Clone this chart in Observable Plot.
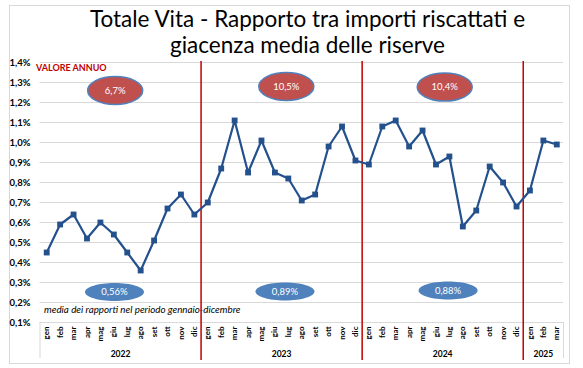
<!DOCTYPE html>
<html><head><meta charset="utf-8">
<script src="https://cdn.jsdelivr.net/npm/d3@7"></script>
<script src="https://cdn.jsdelivr.net/npm/@observablehq/plot@0.6"></script>
<style>
body{margin:0;background:#fff;}
#wrap{position:relative;width:583px;height:368px;font-family:Lato, "Open Sans", sans-serif;}
#frame{position:absolute;left:9px;top:5px;width:561px;height:359px;border:1px solid #d9d9d9;box-sizing:border-box;}
#title{position:absolute;left:16px;width:583px;top:6px;text-align:center;font-size:22.5px;line-height:26px;color:#000;}
#chart{position:absolute;left:0;top:0;}
</style></head>
<body><div id="wrap"><div id="frame"></div><div id="chart"></div>
<div id="title">Totale Vita - Rapporto tra importi riscattati e<br>giacenza media delle riserve</div></div>
<script>
// ---- data ----
const years = ["2022", "2023", "2024", "2025"];
const months = ["gen","feb","mar","apr","mag","giu","lug","ago","set","ott","nov","dic"];
const v2022 = [0.45, 0.59, 0.64, 0.52, 0.60, 0.54, 0.45, 0.36, 0.51, 0.67, 0.74, 0.64];
const v2023 = [0.70, 0.87, 1.11, 0.85, 1.01, 0.85, 0.82, 0.71, 0.74, 0.98, 1.08, 0.91];
const v2024 = [0.89, 1.08, 1.11, 0.98, 1.06, 0.89, 0.93, 0.58, 0.66, 0.88, 0.80, 0.68];
const v2025 = [0.76, 1.01, 0.99];
const annualValues = ["6,7%", "10,5%", "10,4%"];
const meanValues = ["0,56%", "0,89%", "0,88%"];
const yTicks = [0.1, 0.2, 0.3, 0.4, 0.5, 0.6, 0.7, 0.8, 0.9, 1.0, 1.1, 1.2, 1.3, 1.4];

// ---- build table ----
const series = [v2022, v2023, v2024, v2025];
const rows = [];
const yearInfo = [];
series.forEach((vals, yi) => {
  const start = rows.length;
  vals.forEach((v, mi) => rows.push({i: rows.length, month: months[mi], year: years[yi], value: v}));
  yearInfo.push({year: years[yi], center: start + (vals.length - 1) / 2, start, end: rows.length - 1});
});
const separators = yearInfo.slice(1).map(d => d.start - 0.5);

// layout offsets for the annotation bubbles (relative to year center)
const topDx = [-0.4, 0.35, 0.15], topY = [1.26, 1.28, 1.277];
const botDx = [-0.45, 0.25, 0.4], botY = [0.252, 0.255, 0.26];
const annual = annualValues.map((t, k) => ({t, x: yearInfo[k].center + topDx[k], y: topY[k]}));
const means = meanValues.map((t, k) => ({t, x: yearInfo[k].center + botDx[k], y: botY[k]}));

function ellipse(w, h) {
  const a = w / 2, b = h / 2, k = 0.5522847498;
  return {draw(ctx) {
    ctx.moveTo(a, 0);
    ctx.bezierCurveTo(a, b * k, a * k, b, 0, b);
    ctx.bezierCurveTo(-a * k, b, -a, b * k, -a, 0);
    ctx.bezierCurveTo(-a, -b * k, -a * k, -b, 0, -b);
    ctx.bezierCurveTo(a * k, -b, a, -b * k, a, 0);
    ctx.closePath();
  }};
}

const blue = "#24508C";
const fmt = d => d.toFixed(1).replace(".", ",") + "%";

const chart = Plot.plot({
  width: 583, height: 368,
  marginLeft: 39.5, marginRight: 20, marginTop: 62, marginBottom: 46,
  x: {type: "linear", domain: [-0.5, rows.length - 0.5], axis: null},
  y: {domain: [0.1, 1.4], axis: null},
  style: {fontFamily: "Lato, 'Open Sans', sans-serif", background: "transparent", color: "#000", overflow: "visible"},
  marks: [
    Plot.gridY(yTicks, {stroke: "#d9d9d9", strokeOpacity: 1, strokeWidth: 1.2}),
    Plot.axisY(yTicks, {tickFormat: fmt, tickSize: 0, tickPadding: 9.5, fontWeight: "bold", fontSize: 9.5, label: null, fill: "#000"}),
    Plot.ruleX([-0.5, rows.length - 0.5], {y1: 0.1, y2: -0.08, stroke: "#d9d9d9"}),
    Plot.text(rows, {x: "i", y: 0.08, text: "month", rotate: -90, textAnchor: "end", fontWeight: "bold", fontSize: 8, fill: "#000"}),
    Plot.text(yearInfo, {x: "center", y: -0.06, text: "year", fontWeight: "bold", fontSize: 8.5, fill: "#000"}),
    Plot.text(["VALORE ANNUO"], {x: -0.5, y: 1.37, dx: -4, textAnchor: "start", fill: "#C00000", fontWeight: "bold", fontSize: 9}),
    Plot.text(["media dei rapporti nel periodo gennaio-dicembre"], {x: -0.5, y: 0.165, dx: 4, textAnchor: "start", fontStyle: "italic", fontSize: 9.8, fill: "#000"}),
    Plot.ruleX(separators, {y1: 1.405, y2: -0.09, stroke: "#C00000", strokeWidth: 1.5}),
    Plot.line(rows, {x: "i", y: "value", stroke: blue, strokeWidth: 2.2}),
    Plot.dot(rows, {x: "i", y: "value", symbol: "square", r: 3.3, fill: blue, stroke: "none"}),
    Plot.dot(annual, {x: "x", y: "y", symbol: ellipse(55, 28), r: 5, fill: "#C0504D", stroke: "#4F81BD", strokeWidth: 1.5}),
    Plot.text(annual, {x: "x", y: "y", text: "t", fill: "#fff", fontSize: 9.5}),
    Plot.dot(means, {x: "x", y: "y", symbol: ellipse(59, 18), r: 5, fill: "#4F81BD", stroke: "none"}),
    Plot.text(means, {x: "x", y: "y", text: "t", fill: "#fff", fontSize: 9.5})
  ]
});
document.getElementById("chart").appendChild(chart);
</script>
</body></html>
